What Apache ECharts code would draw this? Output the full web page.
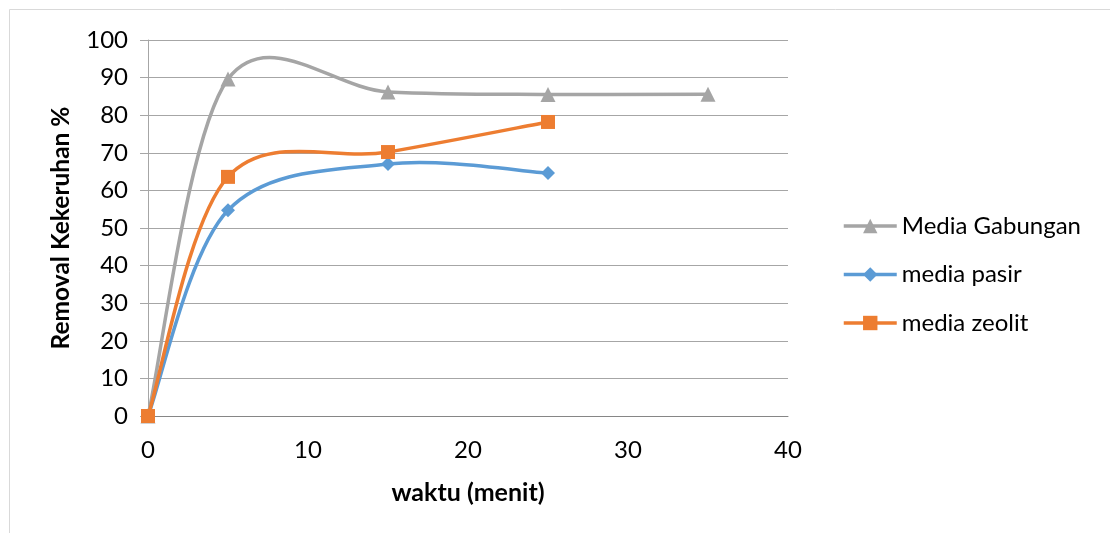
<!DOCTYPE html>
<html>
<head>
<meta charset="utf-8">
<script src="https://cdn.jsdelivr.net/npm/echarts@6/dist/echarts.min.js"></script>
<style>
  html, body { margin: 0; padding: 0; background: #ffffff; }
  #chart { width: 1110px; height: 533px; }
</style>
</head>
<body>
<div id="chart"></div>
<script>
// Turbidity removal (%) over time (minutes) for three filter media
const waktu = [0, 5, 15, 25, 35];
const mediaGabungan = [0, 89.6, 86.2, 85.5, 85.6];
const mediaPasir = [0, 54.7, 67.0, 64.6];
const mediaZeolit = [0, 63.6, 70.2, 78.2];

const seriesNames = ['Media Gabungan', 'media pasir', 'media zeolit'];
const seriesColors = ['#A5A5A5', '#5B9BD5', '#ED7D31'];
const seriesValues = [mediaGabungan, mediaPasir, mediaZeolit];
const seriesSymbols = ['triangle', 'diamond', 'rect'];
const symbolSizes = [15, 14, 14];

const FONT = 'Lato, "Open Sans", sans-serif';
const LINE_W = 3.5;

function pairs(xs, ys) {
  return ys.map((y, i) => [xs[i], y]);
}

// Smoothed connector: cardinal spline (tension 1/6) between neighbouring
// points, mapped to pixels through the chart's own axes with api.coord.
function splineRenderer(xs, ys, color) {
  return function (params, api) {
    const n = ys.length;
    const i = params.dataIndex;
    if (i >= n - 1) return null;
    const at = k => {
      const j = Math.max(0, Math.min(n - 1, k));
      return api.coord([xs[j], ys[j]]);
    };
    const p0 = at(i - 1), p1 = at(i), p2 = at(i + 1), p3 = at(i + 2);
    return {
      type: 'bezierCurve',
      shape: {
        x1: p1[0], y1: p1[1],
        x2: p2[0], y2: p2[1],
        cpx1: p1[0] + (p2[0] - p0[0]) / 6,
        cpy1: p1[1] + (p2[1] - p0[1]) / 6,
        cpx2: p2[0] - (p3[0] - p1[0]) / 6,
        cpy2: p2[1] - (p3[1] - p1[1]) / 6
      },
      style: { stroke: color, lineWidth: LINE_W, fill: null, lineCap: 'round' },
      silent: true
    };
  };
}

const chart = echarts.init(document.getElementById('chart'), null, { renderer: 'canvas' });

const markerSeries = seriesNames.map((name, k) => ({
  name: name,
  type: 'line',
  data: pairs(waktu, seriesValues[k]),
  symbol: seriesSymbols[k],
  symbolSize: symbolSizes[k],
  color: seriesColors[k],
  lineStyle: { width: 0, opacity: 0, color: seriesColors[k] },
  itemStyle: { color: seriesColors[k] },
  z: 4 + k
}));

const curveSeries = seriesNames.map((name, k) => ({
  name: name + ' (kurva)',
  type: 'custom',
  data: pairs(waktu, seriesValues[k]),
  encode: { x: 0, y: 1 },
  renderItem: splineRenderer(waktu, seriesValues[k], seriesColors[k]),
  z: 2,
  zlevel: 0
}));

chart.setOption({
  animation: false,
  backgroundColor: '#ffffff',
  graphic: [{
    type: 'rect',
    shape: { x: 9.5, y: 9.5, width: 1200, height: 600 },
    style: { fill: 'none', stroke: '#d9d9d9', lineWidth: 1 },
    silent: true
  }],
  grid: { left: 148, right: 322, top: 40, bottom: 117 },
  legend: {
    orient: 'vertical',
    left: 837,
    top: 207,
    itemWidth: 53,
    itemHeight: 18,
    itemGap: 20.5,
    data: seriesNames,
    lineStyle: { width: LINE_W, opacity: 1 },
    textStyle: { fontFamily: FONT, fontSize: 24, color: '#000000', lineHeight: 28 }
  },
  xAxis: {
    type: 'value',
    min: 0, max: 40, interval: 10,
    name: 'waktu (menit)',
    nameLocation: 'middle',
    nameGap: 64,
    nameTextStyle: { fontFamily: FONT, fontSize: 25, fontWeight: 'bold', color: '#000000' },
    axisLine: { show: true, onZero: true, lineStyle: { color: '#868686', width: 1 } },
    axisTick: { show: false },
    splitLine: { show: false },
    axisLabel: { fontFamily: FONT, fontSize: 24, color: '#000000', margin: 22 }
  },
  yAxis: {
    type: 'value',
    min: 0, max: 100, interval: 10,
    name: 'Removal Kekeruhan %',
    nameLocation: 'middle',
    nameRotate: 90,
    nameGap: 74,
    nameTextStyle: { fontFamily: FONT, fontSize: 24.5, fontWeight: 'bold', color: '#000000' },
    axisLine: { show: true, lineStyle: { color: '#a6a6a6', width: 1 } },
    axisTick: { show: true, length: 8, lineStyle: { color: '#a6a6a6' } },
    splitLine: { show: true, lineStyle: { color: '#a6a6a6', width: 1 } },
    axisLabel: { fontFamily: FONT, fontSize: 24, color: '#000000', margin: 20 }
  },
  series: markerSeries.concat(curveSeries)
});
</script>
</body>
</html>
